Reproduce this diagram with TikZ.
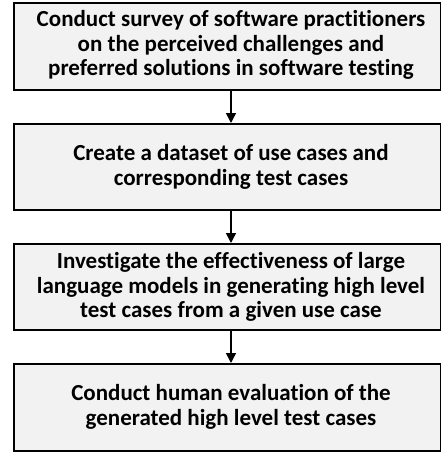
\documentclass[tikz,border=0pt]{standalone}
\usepackage{fontspec}
\setmainfont{Carlito}[Ligatures={NoCommon}]
\usetikzlibrary{arrows.meta}
\begin{document}
\begin{tikzpicture}[x=1pt,y=-1pt,
  stagebox/.style={draw=black,line width=2pt,fill=black!5,inner sep=0pt},
  stagetext/.style={font=\bfseries\fontsize{23}{24.5}\selectfont,align=center},
  flow/.style={line width=1.5pt,-{Triangle[width=10pt,length=10pt]}}]
\useasboundingbox (0,0) rectangle (440,453);
% process stages
\draw[stagebox] (14,3) rectangle (441,90);
\draw[stagebox] (14,124) rectangle (441,210);
\draw[stagebox] (14,244) rectangle (441,330);
\draw[stagebox] (14,364) rectangle (441,451);
\node[stagetext] (s1) at (231,45) {Conduct survey of software practitioners\\on the perceived challenges and\\preferred solutions in software testing};
\node[stagetext] (s2) at (231,167) {Create a dataset of use cases and\\corresponding test cases};
\node[stagetext] (s3) at (231,287) {Investigate the effectiveness of large\\language models in generating high level\\test cases from a given use case};
\node[stagetext] (s4) at (231,407) {Conduct human evaluation of the\\generated high level test cases};
% connectors between stages
\coordinate (b1) at (231,90);
\coordinate (t2) at (231,123);
\coordinate (b2) at (231,210);
\coordinate (t3) at (231,243);
\coordinate (b3) at (231,330);
\coordinate (t4) at (231,363);
\draw[flow] (b1) -- (t2);
\draw[flow] (b2) -- (t3);
\draw[flow] (b3) -- (t4);
\end{tikzpicture}
\end{document}
